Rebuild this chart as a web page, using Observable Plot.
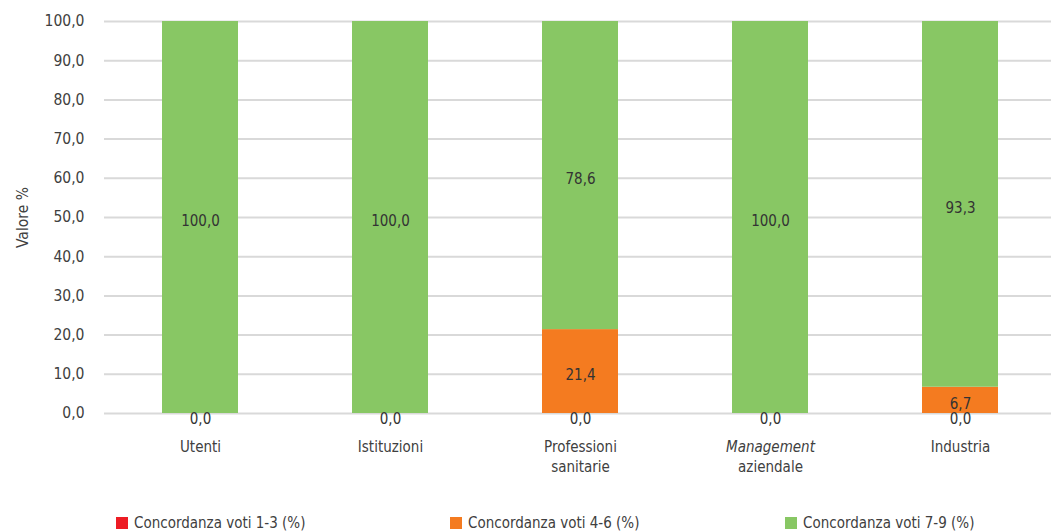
<!DOCTYPE html>
<html>
<head>
<meta charset="utf-8">
<script src="https://cdn.jsdelivr.net/npm/d3@7"></script>
<script src="https://cdn.jsdelivr.net/npm/@observablehq/plot@0.6"></script>
<style>
  html, body { margin: 0; padding: 0; background: #fff; }
  body { width: 1051px; height: 532px; position: relative; overflow: hidden;
         font-family: "Liberation Sans Narrow", "DejaVu Sans Condensed", "Roboto", sans-serif; color: #404040; }
  #legend { position: absolute; left: 0; top: 514px; width: 1051px; height: 20px; font-size: 15px; }
  .item { position: absolute; top: 0; display: flex; align-items: center; white-space: nowrap; }
  .sw { width: 12px; height: 12px; margin-right: 6px; display: inline-block; }
</style>
</head>
<body>
<div id="chart"></div>
<div id="legend"></div>
<script>
const categories = ["Utenti", "Istituzioni", "Professioni sanitarie", "Management aziendale", "Industria"];
const tickLabels = ["Utenti", "Istituzioni", "Professioni\nsanitarie", "Management\naziendale", "Industria"];
const seriesNames = ["Concordanza voti 1-3 (%)", "Concordanza voti 4-6 (%)", "Concordanza voti 7-9 (%)"];
const seriesColors = ["#ed1c24", "#f47b20", "#88c764"];
const v13 = [0, 0, 0, 0, 0];
const v46 = [0, 0, 21.4, 0, 6.7];
const v79 = [100, 100, 78.6, 100, 93.3];
const yTicks = [0, 10, 20, 30, 40, 50, 60, 70, 80, 90, 100];

const seriesValues = [v13, v46, v79];
const data = [];
seriesNames.forEach((s, si) => categories.forEach((c, ci) => data.push({category: c, series: s, value: seriesValues[si][ci]})));

const fmt = d => d.toFixed(1).replace(".", ",");
const labelFor = new Map(categories.map((c, i) => [c, tickLabels[i]]));

const chart = Plot.plot({
  width: 1051,
  height: 500,
  marginLeft: 104,
  marginRight: 0,
  marginTop: 21,
  marginBottom: 87,
  style: {fontFamily: '"Liberation Sans Narrow", "DejaVu Sans Condensed", sans-serif', fontSize: "15px", color: "#404040", background: "#fff"},
  x: {domain: categories, range: [104, 1056], paddingInner: 0.6, paddingOuter: 0.3},
  y: {domain: [0, 100]},
  color: {domain: seriesNames, range: seriesColors},
  marks: [
    Plot.gridY(yTicks, {stroke: "#d9d9d9", strokeOpacity: 1, strokeWidth: 2}),
    Plot.barY(data, {x: "category", y: "value", fill: "series", order: seriesNames}),
    Plot.text(data, Plot.stackY({
      filter: d => d.value > 0,
      x: "category", y: "value", z: "series", order: seriesNames,
      text: d => fmt(d.value), fill: "#333", fontSize: 15, dy: 4
    })),
    Plot.text(data, {
      filter: d => d.value === 0 && d.series === seriesNames[0],
      x: "category", y: 0, text: d => fmt(d.value), fill: "#333", fontSize: 15, dy: 6
    }),
    Plot.axisY(yTicks, {tickSize: 0, tickPadding: 20, tickFormat: fmt, fontSize: 15.5, fill: "#404040",
      label: "Valore %", labelAnchor: "center", labelArrow: "none", labelOffset: 88}),
    Plot.axisX({tickSize: 0, tickPadding: 25, tickFormat: d => labelFor.get(d), fontSize: 15, lineHeight: 1.3, fill: "#404040", label: null})
  ]
});
document.getElementById("chart").appendChild(chart);

// italicize the word "Management"
d3.select(chart).selectAll("tspan").filter(function() { return this.textContent === "Management"; })
  .attr("font-style", "italic");

// legend
const legendX = [116, 450, 785];
const legend = d3.select("#legend");
seriesNames.forEach((s, i) => {
  const it = legend.append("div").attr("class", "item").style("left", legendX[i] + "px");
  it.append("span").attr("class", "sw").style("background", seriesColors[i]);
  it.append("span").text(s);
});
</script>
</body>
</html>
